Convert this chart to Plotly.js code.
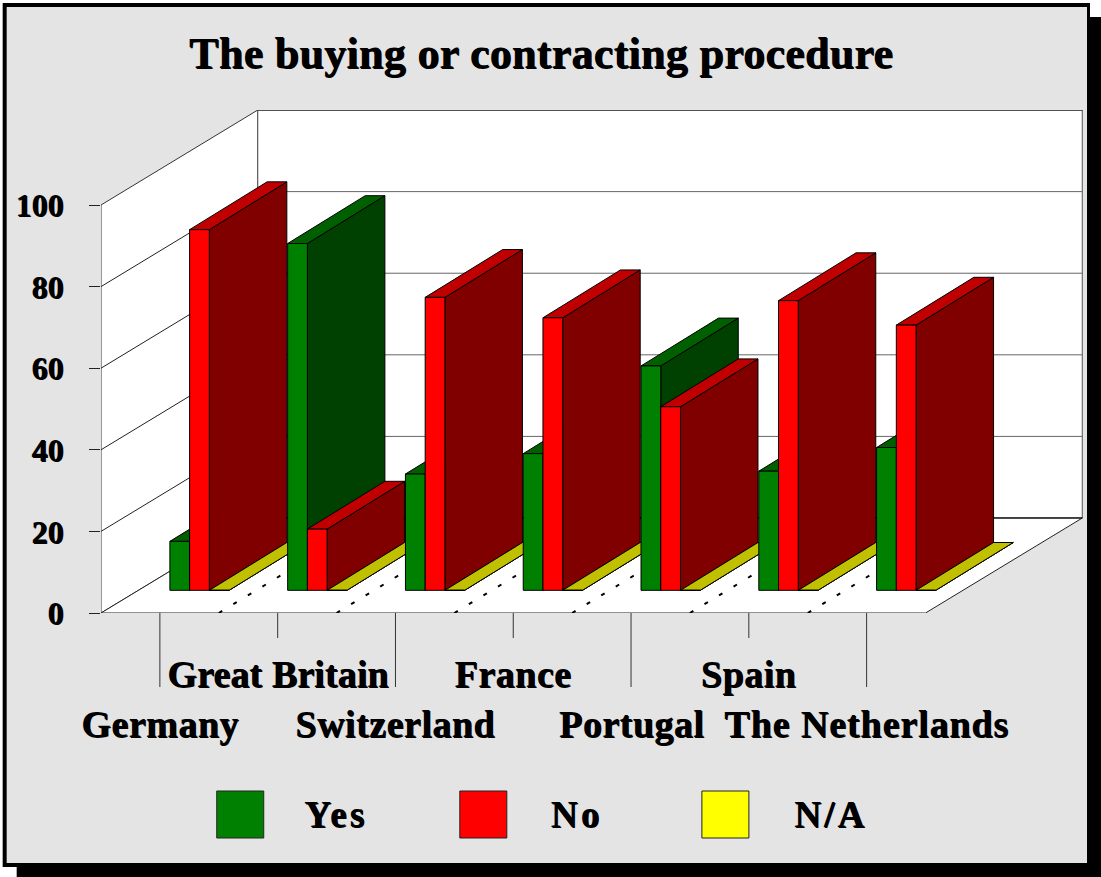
<!DOCTYPE html>
<html>
<head>
<meta charset="utf-8">
<script src="https://cdn.plot.ly/plotly-3.0.0.min.js"></script>
<style>html,body{margin:0;padding:0;background:#fff}#chart{width:1101px;height:877px}</style>
</head>
<body>
<div id="chart"></div>
<script>
const categories = ["Germany","Great Britain","Switzerland","France","Portugal","Spain","The Netherlands"];
const yesValues = [12, 85, 28.5, 33.5, 55, 29.2, 35];
const noValues = [88.4, 15, 71.8, 66.8, 45, 71, 65];
const naValues = [0, 0, 0, 0, 0, 0, 0];
const seriesNames = ["Yes","No","N/A"];
const yTicks = [0,20,40,60,80,100];
const titleText = "The buying or contracting procedure";

const W = 1101, H = 877;
const m = {l:101.3, t:110, r:18, b:264};
const pw = W-m.l-m.r, ph = H-m.t-m.b;
const px = v => (v-m.l)/pw;
const py = v => 1-(v-m.t)/ph;

const FONT = '"Liberation Serif", "Times New Roman", serif';
const SHADOW = '1px 1px 0 #000';
const series = [
  {vals:yesValues, front:'#008000', side:'#004000', top:'#006000'},
  {vals:noValues,  front:'#ff0000', side:'#800000', top:'#c00000'},
  {vals:naValues,  front:'#ffff00', side:'#808000', top:'#c0c000'}
];
// oblique projection in axis units
const unitX = 117.75, unitY = 4.08;
const backDx = 1.331, backDy = 23.28;
const barOffX = 0.336, barOffY = 5.56;
const barDx = 0.658, barDy = 11.72;
const barW = 0.1675;
const floorL = -0.5, floorR = categories.length-0.5;
const vMax = 100;

const traces = [];
function poly(xs, ys, fill, lineColor, lw){
  traces.push({type:'scatter', mode:'lines', x:xs.concat(xs[0]), y:ys.concat(ys[0]),
    fill:'toself', fillcolor:fill, line:{color:lineColor||'#000', width:lw===undefined?1:lw},
    hoverinfo:'skip', showlegend:false});
}
function seg(xs, ys, color, width, dash){
  traces.push({type:'scatter', mode:'lines', x:xs, y:ys,
    line:{color:color, width:width||1, dash:dash||'solid'}, hoverinfo:'skip', showlegend:false});
}
// walls and floor
poly([floorL,floorL+backDx,floorL+backDx,floorL],[0,backDy,vMax+backDy,vMax],'#ffffff','#333');
poly([floorL+backDx,floorR+backDx,floorR+backDx,floorL+backDx],[backDy,backDy,vMax+backDy,vMax+backDy],'#ffffff','#555');
poly([floorL,floorR,floorR+backDx,floorL+backDx],[0,0,backDy,backDy],'#ffffff','#222');
seg([floorL+backDx,floorR+backDx],[vMax+backDy,vMax+backDy],'#000',1.2);
yTicks.forEach(t=>{
  if(t>0 && t<100) seg([floorL+backDx,floorR+backDx],[t+backDy,t+backDy],'#666',1);
  if(t>0 && t<100) seg([floorL,floorL+backDx],[t,t+backDy],'#222',1);
});
seg([floorL+backDx,floorR+backDx],[backDy,backDy],'#111',1);
// dotted floor lines
for(let i=0;i<categories.length-1;i++){
  seg([i+0.5,i+0.5+backDx],[0,backDy],'#000',2,'4px,13px');
}
// bars, painted back-to-front (left to right)
categories.forEach((c,i)=>{
  series.forEach((s,k)=>{
    const v = s.vals[i];
    const x0 = i+barOffX+(k-1.5)*barW, x1 = x0+barW;
    const b = barOffY, t = barOffY+v;
    poly([x1,x1+barDx,x1+barDx,x1],[b,b+barDy,t+barDy,t],s.side);
    poly([x0,x1,x1+barDx,x0+barDx],[t,t,t+barDy,t+barDy],s.top);
    poly([x0,x1,x1,x0],[b,b,t,t],s.front);
  });
});

const shapes = [
  {type:'rect',xref:'paper',yref:'paper',x0:px(17),x1:px(1101),y0:py(17),y1:py(877),fillcolor:'#000',line:{width:0},layer:'below'},
  {type:'rect',xref:'paper',yref:'paper',x0:px(3),x1:px(1090),y0:py(3),y1:py(867),fillcolor:'#000',line:{width:0},layer:'below'},
  {type:'rect',xref:'paper',yref:'paper',x0:px(7),x1:px(1087),y0:py(7),y1:py(863),fillcolor:'#e4e4e4',line:{width:0},layer:'below'}
];
// category tick lines: alternate long and short
categories.forEach((c,i)=>{
  shapes.push({type:'line',xref:'x',yref:'paper',x0:i,x1:i,y0:py(613),y1:py(i%2===0?687:638),
    line:{color:'#333',width:1},layer:'above'});
});
const legendX = [217,460,702], legendTextX=[336,577,831];
const annotations = [];
categories.forEach((c,i)=>{
  annotations.push({xref:'x',yref:'paper',x:i,y:py(i%2===0?724:674),text:c,showarrow:false,
    xanchor:'center',yanchor:'middle',
    font:{family:FONT,size:38,color:'#000',weight:700,shadow:SHADOW}});
});
seriesNames.forEach((n,k)=>{
  shapes.push({type:'rect',xref:'paper',yref:'paper',x0:px(legendX[k]),x1:px(legendX[k]+47),y0:py(791),y1:py(838),
    fillcolor:series[k].front,line:{color:'#222',width:1},layer:'above'});
  annotations.push({xref:'paper',yref:'paper',x:px(legendTextX[k]),y:py(814),text:n,showarrow:false,
    xanchor:'center',yanchor:'middle',
    font:{family:FONT,size:37,color:'#000',weight:700,shadow:SHADOW}});
});
annotations.push({xref:'paper',yref:'paper',x:px(541),y:py(54),text:titleText,showarrow:false,
  xanchor:'center',yanchor:'middle',
  font:{family:FONT,size:44,color:'#000',weight:700,shadow:SHADOW}});

const layout = {
  width:W, height:H, margin:{l:m.l,t:m.t,r:m.r,b:m.b,pad:0},
  paper_bgcolor:'#ffffff', plot_bgcolor:'rgba(0,0,0,0)', showlegend:false,
  title:{text:''},
  xaxis:{range:[floorL, floorL+pw/unitX], showgrid:false, zeroline:false, showticklabels:false, ticks:'', showline:false, fixedrange:true},
  yaxis:{range:[0, ph/unitY], showgrid:false, zeroline:false, showline:false, tickmode:'array', tickvals:yTicks, ticktext:yTicks.map(String),
    ticks:'outside', ticklen:11, tickcolor:'#222', tickwidth:1, ticklabelstandoff:19,
    tickfont:{family:FONT,size:32,color:'#000',weight:700,shadow:SHADOW}, fixedrange:true},
  shapes:shapes, annotations:annotations
};
Plotly.newPlot('chart', traces, layout, {displayModeBar:false, staticPlot:true}).then(gd=>{
  // the reference's type is set slightly wider than the installed serif
  gd.querySelectorAll('.annotation-text').forEach(el=>{
    const t = el.textContent;
    let sp = 0.5;
    if(t===titleText) sp = 0.28;
    else if(seriesNames.includes(t)) sp = 3.2;
    else if(t==='The Netherlands') sp = 0.9;
    else if(t==='Great Britain') sp = 0.1;
    el.style.letterSpacing = sp+'px';
  });
});
</script>
</body>
</html>
